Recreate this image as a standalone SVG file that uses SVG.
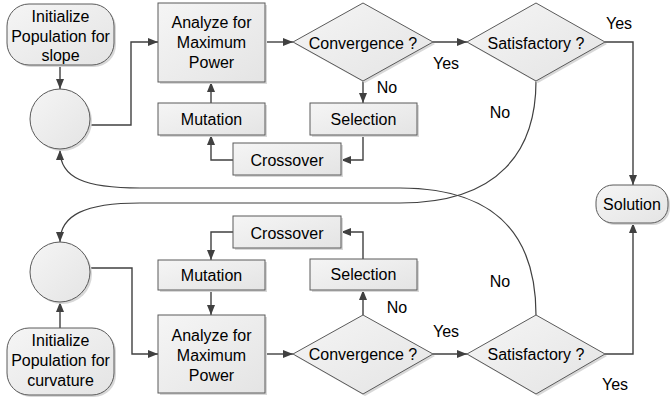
<svg xmlns="http://www.w3.org/2000/svg" width="670" height="402" viewBox="0 0 670 402">
  <defs>
    <linearGradient id="fillGrad" x1="0" y1="0" x2="1" y2="1">
      <stop offset="0" stop-color="#f5f5f5"/>
      <stop offset="1" stop-color="#e4e4e4"/>
    </linearGradient>
    <marker id="arrow" markerUnits="userSpaceOnUse" markerWidth="10" markerHeight="8" refX="10" refY="4" orient="auto">
      <path d="M0,0 L10,4 L0,8 z" fill="#404040"/>
    </marker>
    <style>
      .shape { fill: url(#fillGrad); stroke: #5a5a5a; stroke-width: 1; }
      .shadow { fill: #d8d8d8; stroke: none; }
      .label { font-family: "Liberation Sans", Arial, sans-serif; font-size: 16px; fill: #000; text-anchor: middle; }
      .conn { fill: none; stroke: #404040; stroke-width: 1.4; marker-end: url(#arrow); }
      .curve { fill: none; stroke: #404040; stroke-width: 1.2; }
    </style>
  </defs>

  <rect width="670" height="402" fill="#ffffff"/>

  <!-- connectors -->
  <g id="connectors">
    <path class="conn" d="M60,65 V89"/>
    <path class="conn" d="M90,125 H131 V42 H158"/>
    <path class="conn" d="M265,42 H293"/>
    <path class="conn" d="M433,42 H467"/>
    <path class="conn" d="M605,42 H633 V185"/>
    <path class="conn" d="M363,81 V103"/>
    <path class="conn" d="M363,135 V160 H341"/>
    <path class="conn" d="M233,160 H211 V135"/>
    <path class="conn" d="M211,103 V82"/>

    <path class="conn" d="M60,328 V302"/>
    <path class="conn" d="M90,268 H132 V354 H158"/>
    <path class="conn" d="M265,354 H293"/>
    <path class="conn" d="M433,354 H467"/>
    <path class="conn" d="M605,354 H633 V223"/>
    <path class="conn" d="M363,315 V290"/>
    <path class="conn" d="M363,259 V232 H341"/>
    <path class="conn" d="M233,232 H211 V260"/>
    <path class="conn" d="M211,290 V315"/>

    <path class="curve" marker-end="url(#arrow)" d="M536,81 C536,150 500,203 400,203 L140,203 C85,203 60,215 60,242"/>
    <path class="curve" marker-end="url(#arrow)" d="M536,315 C536,240 500,188 400,188 L140,188 C85,188 60,178 60,150"/>

    <text class="label" x="387" y="93">No</text>
    <text class="label" x="446" y="69">Yes</text>
    <text class="label" x="619" y="29">Yes</text>
    <text class="label" x="500" y="118">No</text>
    <text class="label" x="397" y="313">No</text>
    <text class="label" x="446" y="337">Yes</text>
    <text class="label" x="500" y="287">No</text>
    <text class="label" x="615" y="390">Yes</text>
  </g>

  <!-- slope branch -->
  <g id="init-slope">
    <rect class="shadow" x="9" y="6" width="107" height="61" rx="22"/>
    <rect class="shape" x="7" y="4" width="107" height="61" rx="22"/>
    <text class="label" x="60.5" y="21.5">Initialize</text>
    <text class="label" x="60.5" y="41.5">Population for</text>
    <text class="label" x="60.5" y="60.5">slope</text>
  </g>
  <g id="pop-slope">
    <circle class="shadow" cx="62" cy="121" r="30"/>
    <circle class="shape" cx="60" cy="119" r="30"/>
  </g>
  <g id="analyze-slope">
    <rect class="shadow" x="160" y="5" width="107" height="79"/>
    <rect class="shape" x="158" y="3" width="107" height="79"/>
    <text class="label" x="211.5" y="27.5">Analyze for</text>
    <text class="label" x="211.5" y="48">Maximum</text>
    <text class="label" x="211.5" y="67.5">Power</text>
  </g>
  <g id="mutation-slope">
    <rect class="shadow" x="160" y="105" width="107" height="32"/>
    <rect class="shape" x="158" y="103" width="107" height="32"/>
    <text class="label" x="211.5" y="124.5">Mutation</text>
  </g>
  <g id="crossover-slope">
    <rect class="shadow" x="235" y="145" width="108" height="32"/>
    <rect class="shape" x="233" y="143" width="108" height="32"/>
    <text class="label" x="287" y="165.5">Crossover</text>
  </g>
  <g id="selection-slope">
    <rect class="shadow" x="312" y="105" width="107" height="32"/>
    <rect class="shape" x="310" y="103" width="107" height="32"/>
    <text class="label" x="363.5" y="124.5">Selection</text>
  </g>
  <g id="convergence-slope">
    <polygon class="shadow" points="365,5 435,44 365,83 295,44"/>
    <polygon class="shape" points="363,3 433,42 363,81 293,42"/>
    <text class="label" x="363" y="48.5">Convergence ?</text>
  </g>
  <g id="satisfactory-slope">
    <polygon class="shadow" points="538,5 607,44 538,83 469,44"/>
    <polygon class="shape" points="536,3 605,42 536,81 467,42"/>
    <text class="label" x="536" y="48.5">Satisfactory ?</text>
  </g>

  <!-- shared result -->
  <g id="solution">
    <rect class="shadow" x="598" y="187" width="72" height="38" rx="17"/>
    <rect class="shape" x="596" y="185" width="72" height="38" rx="17"/>
    <text class="label" x="632" y="210">Solution</text>
  </g>

  <!-- curvature branch -->
  <g id="init-curvature">
    <rect class="shadow" x="9" y="330" width="107" height="67" rx="22"/>
    <rect class="shape" x="7" y="328" width="107" height="67" rx="22"/>
    <text class="label" x="60.5" y="346">Initialize</text>
    <text class="label" x="60.5" y="366">Population for</text>
    <text class="label" x="60.5" y="386">curvature</text>
  </g>
  <g id="pop-curvature">
    <circle class="shadow" cx="62" cy="274" r="30"/>
    <circle class="shape" cx="60" cy="272" r="30"/>
  </g>
  <g id="analyze-curvature">
    <rect class="shadow" x="160" y="317" width="107" height="78"/>
    <rect class="shape" x="158" y="315" width="107" height="78"/>
    <text class="label" x="211.5" y="341">Analyze for</text>
    <text class="label" x="211.5" y="361">Maximum</text>
    <text class="label" x="211.5" y="381">Power</text>
  </g>
  <g id="mutation-curvature">
    <rect class="shadow" x="160" y="262" width="107" height="30"/>
    <rect class="shape" x="158" y="260" width="107" height="30"/>
    <text class="label" x="211.5" y="281">Mutation</text>
  </g>
  <g id="crossover-curvature">
    <rect class="shadow" x="235" y="218" width="108" height="32"/>
    <rect class="shape" x="233" y="216" width="108" height="32"/>
    <text class="label" x="287" y="238.5">Crossover</text>
  </g>
  <g id="selection-curvature">
    <rect class="shadow" x="312" y="261" width="107" height="31"/>
    <rect class="shape" x="310" y="259" width="107" height="31"/>
    <text class="label" x="363.5" y="280">Selection</text>
  </g>
  <g id="convergence-curvature">
    <polygon class="shadow" points="365,317 435,356 365,396 295,356"/>
    <polygon class="shape" points="363,315 433,354 363,394 293,354"/>
    <text class="label" x="363" y="360">Convergence ?</text>
  </g>
  <g id="satisfactory-curvature">
    <polygon class="shadow" points="538,317 607,356 538,396 469,356"/>
    <polygon class="shape" points="536,315 605,354 536,394 467,354"/>
    <text class="label" x="536" y="360">Satisfactory ?</text>
  </g>
</svg>
